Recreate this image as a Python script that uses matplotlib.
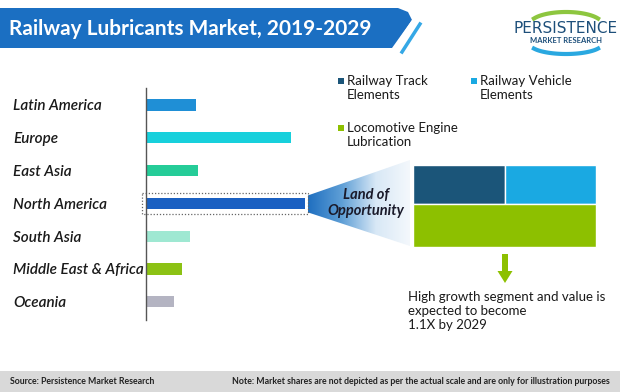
import matplotlib
matplotlib.use("Agg")
import matplotlib.pyplot as plt
import numpy as np
from matplotlib.patches import Rectangle, Polygon, FancyArrow
from matplotlib.colors import LinearSegmentedColormap

plt.rcParams['font.family'] = ['Lato', 'DejaVu Sans']

# ---- data ----
regions = ["Latin America", "Europe", "East Asia", "North America",
           "South Asia", "Middle East & Africa", "Oceania"]
region_values = [50, 145, 52, 159, 44, 36, 28]   # illustrative lengths
region_colors = ["#1f8fd6", "#17d0dc", "#25cc98", "#1a60c2",
                 "#9fe8d2", "#8cc214", "#b4b4c2"]
highlight = "North America"

segments = ["Railway Track\nElements", "Railway Vehicle\nElements",
            "Locomotive Engine\nLubrication"]
segment_shares = [1.0, 1.0, 2.0]
segment_colors = ["#1b5579", "#1aa9e2", "#8dc000"]

title = "Railway Lubricants Market, 2019-2029"
callout = "Land of\nOpportunity"
growth_text = "High growth segment and value is\nexpected to become\n1.1X by 2029"
source = "Source: Persistence Market Research"
note = "Note: Market shares are not depicted as per the actual scale and are only for illustration purposes"

W, H = 620, 392
fig = plt.figure(figsize=(W / 100, H / 100), dpi=100)
fig.patch.set_facecolor("white")

# overlay axes in pixel coordinates
ov = fig.add_axes([0, 0, 1, 1])
ov.set_xlim(0, W)
ov.set_ylim(H, 0)
ov.axis("off")

# title band
band = Polygon([(0, 8), (398, 8), (408, 12), (412, 20), (392, 48), (0, 48)],
               closed=True, facecolor="#1b6fc2", edgecolor="none")
ov.add_patch(band)
ov.plot([394, 416], [50, 17], color="white", lw=2.5)
ov.plot([402, 420], [52, 24], color="#35a8e6", lw=2.5)
ov.text(9, 29, title, color="white", fontsize=15, fontweight="bold",
        va="center", ha="left")

# logo
th = np.linspace(0.15 * np.pi, 0.85 * np.pi, 40)
ov.plot(566 + 36 * np.cos(th), 24 - 12 * np.sin(th), color="#8dc63f", lw=3)
th2 = np.linspace(1.15 * np.pi, 1.85 * np.pi, 40)
ov.plot(566 + 36 * np.cos(th2), 44 - 10 * np.sin(th2), color="#2aa8e0", lw=3)
ov.text(566, 28, "PERSISTENCE", color="#1d4f7a", fontsize=11,
        ha="center", va="center", fontfamily="Liberation Sans Narrow")
ov.text(566, 40, "MARKET RESEARCH", color="#1d4f7a", fontsize=5.5,
        fontweight="bold", ha="center", va="center")

# bar axes: x units = pixels
x0, x1 = 146, 330
y_top, y_bot = 88, 320
row0, step = 105, 32.8
bx = fig.add_axes([x0 / W, 1 - y_bot / H, (x1 - x0) / W, (y_bot - y_top) / H])
bx.set_xlim(0, x1 - x0)
bx.set_ylim((y_bot - row0) / step, (y_top - row0) / step)
ypos = np.arange(len(regions))
bx.barh(ypos, region_values, height=0.34, color=region_colors)
bx.patch.set_alpha(0)
for s in ["top", "right", "bottom"]:
    bx.spines[s].set_visible(False)
bx.spines["left"].set_color("#555555")
bx.spines["left"].set_linewidth(1)
bx.set_xticks([])
bx.set_yticks(ypos)
bx.set_yticklabels(regions, fontsize=11, fontstyle="italic", fontweight="semibold",
                   color="#1a1a1a")
for lab in bx.get_yticklabels():
    lab.set_horizontalalignment("left")
bx.tick_params(axis="y", length=0, pad=(x0 - 13) * 0.72)

hi = regions.index(highlight)
bx.add_patch(Rectangle((-4, hi - 0.32), region_values[hi] + 7, 0.64, fill=False,
                       edgecolor="#666666", lw=0.9, ls=(0, (1, 1.5)), clip_on=False))

# funnel with gradient
hy = row0 + step * hi
fx0 = x0 + region_values[hi] + 3
funnel = Polygon([(fx0, hy - 8), (410, 160), (410, 246), (fx0, hy + 9)],
                 closed=True, facecolor="none", edgecolor="none")
ov.add_patch(funnel)
cmap = LinearSegmentedColormap.from_list("f", ["#1f6fc0", "#5f9fd6", "#d8e8f6", "#f4f8fc"])
grad = np.linspace(0, 1, 256).reshape(1, -1)
im = ov.imshow(grad, extent=(fx0, 410, 250, 155), cmap=cmap, aspect="auto", zorder=1)
im.set_clip_path(funnel)
ov.set_xlim(0, W)
ov.set_ylim(H, 0)
ov.text(366, 203, callout, fontsize=10.5, fontweight="bold", fontstyle="italic",
        color="#1a1a2a", ha="center", va="center", linespacing=1.15, zorder=3)

# segment box (widths from shares)
bl, br, btop, bmid, bbot = 413, 596, 165, 204, 247
tot_top = segment_shares[0] + segment_shares[1]
wa = (br - bl) * segment_shares[0] / tot_top
ov.add_patch(Rectangle((bl, btop), wa, bmid - btop, facecolor=segment_colors[0],
                       edgecolor="white", lw=1, zorder=2))
ov.add_patch(Rectangle((bl + wa, btop), (br - bl) - wa, bmid - btop,
                       facecolor=segment_colors[1], edgecolor="white", lw=1, zorder=2))
ov.add_patch(Rectangle((bl, bmid), br - bl, bbot - bmid, facecolor=segment_colors[2],
                       edgecolor="white", lw=1, zorder=2))

# legend
leg_pos = [(341, 77), (474, 77), (341, 124)]
for (lx, ly), lab, col in zip(leg_pos, segments, segment_colors):
    ov.add_patch(Rectangle((lx - 3, ly + 1), 6, 6, facecolor=col, edgecolor="none"))
    ov.text(lx + 6, ly - 2, lab, fontsize=9.5, color="#1a1a1a", ha="left", va="top",
            linespacing=1.2)

# arrow
ov.add_patch(FancyArrow(505, 254, 0, 29, width=6, head_width=15, head_length=12,
                        length_includes_head=True, facecolor="#8dc000",
                        edgecolor="none"))
ov.text(408, 291, growth_text, fontsize=9.5, color="#1a1a1a", ha="left", va="top",
        linespacing=1.2)

# footer
ov.add_patch(Rectangle((0, 371), W, 21, facecolor="#d9d9d9", edgecolor="none"))
ov.text(10, 381.5, source, fontsize=6.3, fontweight="bold", color="#222222",
        ha="left", va="center")
ov.text(232, 381.5, note, fontsize=6.3, fontweight="bold", color="#222222",
        ha="left", va="center")

fig.savefig("out.png", dpi=100, facecolor="white")
